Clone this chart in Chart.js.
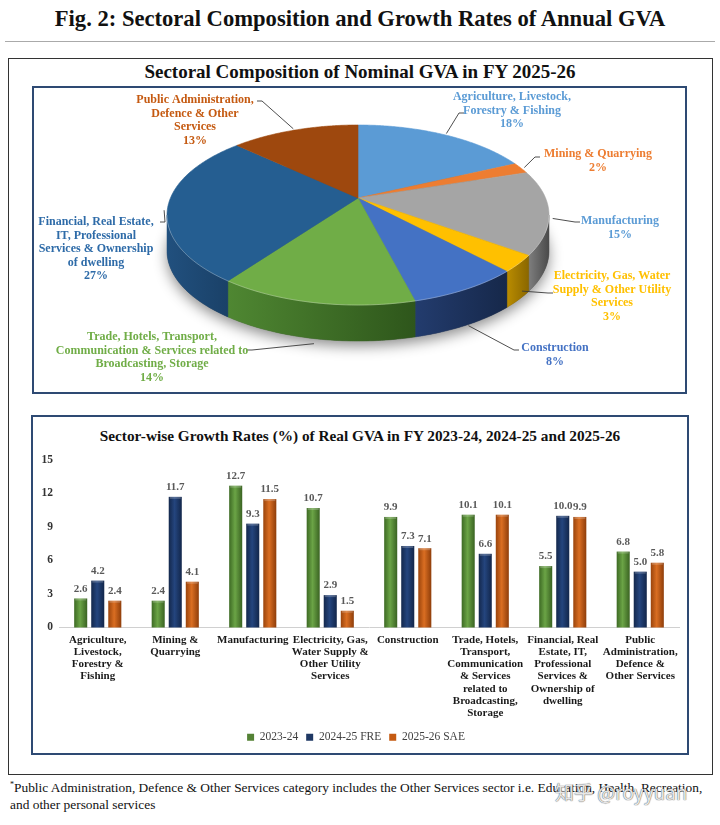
<!DOCTYPE html>
<html><head><meta charset="utf-8">
<script src="https://cdn.jsdelivr.net/npm/chart.js@4.4.1/dist/chart.umd.min.js"></script>
<style>
html,body{margin:0;padding:0;background:#fff;}
body{width:720px;height:825px;position:relative;overflow:hidden;font-family:"Liberation Serif","Times New Roman",serif;color:#111;}
.abs{position:absolute;}
#title{left:0;top:5px;width:720px;text-align:center;font-weight:bold;font-size:22.6px;line-height:28px;}
#rule{left:5px;top:41px;width:710px;height:1px;background:#aaa;}
#outer{left:8px;top:58px;width:705px;height:717px;border:1px solid #333;box-sizing:border-box;}
#pieTitle{left:0;top:61px;width:720px;text-align:center;font-weight:bold;font-size:19px;line-height:22px;}
#pieBox{left:32px;top:86px;width:655px;height:308px;border:2px solid #2E4A73;box-sizing:border-box;}
#barBox{left:31px;top:415px;width:658px;height:340px;border:2px solid #2E4A73;box-sizing:border-box;}
#barTitle{left:31px;top:426px;width:658px;text-align:center;font-weight:bold;font-size:15.3px;line-height:19px;}
#pieCanvas{left:34px;top:88px;}
#barCanvas{left:33px;top:445px;}
#foot{left:10px;top:776px;width:710px;font-size:13.4px;line-height:17px;white-space:nowrap;}
#wm{left:555px;top:778px;font-family:"Noto Sans CJK SC";font-size:19px;color:rgba(255,255,255,0.85);text-shadow:0 0 1px #666,0 0 1px #666;}
</style></head><body>
<div id="title" class="abs">Fig. 2: Sectoral Composition and Growth Rates of Annual GVA</div>
<div id="rule" class="abs"></div>
<div id="outer" class="abs"></div>
<div id="pieTitle" class="abs">Sectoral Composition of Nominal GVA in FY 2025-26</div>
<div id="pieBox" class="abs"></div>
<div id="barBox" class="abs"></div>
<div id="barTitle" class="abs">Sector-wise Growth Rates (%) of Real GVA in FY 2023-24, 2024-25 and 2025-26</div>
<canvas id="pieCanvas" class="abs" width="651" height="304"></canvas>
<canvas id="barCanvas" class="abs" width="654" height="308"></canvas>
<div id="foot" class="abs"><sup style="font-size:8px">*</sup>Public Administration, Defence &amp; Other Services category includes the Other Services sector i.e. Education, Health, Recreation,<br>and other personal services</div>
<div id="wm" class="abs">知乎 @royyuan</div>
<script>
const FONT = '"Liberation Serif", "Times New Roman", serif';

// ---------- Pie data ----------
const pieSectors = ['Agriculture, Livestock, Forestry & Fishing','Mining & Quarrying','Manufacturing',
  'Electricity, Gas, Water Supply & Other Utility Services','Construction',
  'Trade, Hotels, Transport, Communication & Services related to Broadcasting, Storage',
  'Financial, Real Estate, IT, Professional Services & Ownership of dwelling',
  'Public Administration, Defence & Other Services'];
const pieLabelLines = [
  ['Agriculture, Livestock,','Forestry & Fishing'],
  ['Mining & Quarrying'],
  ['Manufacturing'],
  ['Electricity, Gas, Water','Supply & Other Utility','Services'],
  ['Construction'],
  ['Trade, Hotels, Transport,','Communication & Services related to','Broadcasting, Storage'],
  ['Financial, Real Estate,','IT, Professional','Services & Ownership','of dwelling'],
  ['Public Administration,','Defence & Other','Services']
];
const pieShares = [18, 2, 15, 3, 8, 14, 27, 13];

// ---------- Bar data ----------
const barCategories = [
  ['Agriculture,','Livestock,','Forestry &','Fishing'],
  ['Mining &','Quarrying'],
  ['Manufacturing'],
  ['Electricity, Gas,','Water Supply &','Other Utility','Services'],
  ['Construction'],
  ['Trade, Hotels,','Transport,','Communication','& Services','related to','Broadcasting,','Storage'],
  ['Financial, Real','Estate, IT,','Professional','Services &','Ownership of','dwelling'],
  ['Public','Administration,','Defence &','Other Services']
];
const seriesNames = ['2023-24', '2024-25 FRE', '2025-26 SAE'];
const growth2324 = [2.6, 2.4, 12.7, 10.7, 9.9, 10.1, 5.5, 6.8];
const growth2425 = [4.2, 11.7, 9.3, 2.9, 7.3, 6.6, 10.0, 5.0];
const growth2526 = [2.4, 4.1, 11.5, 1.5, 7.1, 10.1, 9.9, 5.8];
const yTicks = [0, 3, 6, 9, 12, 15];

// ---------- Styles ----------
const pieColors = ['#5B9BD5','#ED7D31','#A5A5A5','#FFC000','#4472C4','#70AD47','#255E91','#9E480E'];
const wallLight = ['#3F75A8','#B85B1F','#7E7E7E','#BA8C00','#233C6E','#4F8732','#21507E','#7A360A'];
const wallDark  = ['#2F5A85','#8A4315','#4A4A4A','#8A6700','#16284A','#2E561B','#1A4168','#5C2807'];
const pieTextColors = ['#5B9BD5','#ED7D31','#5B9BD5','#FFC000','#4472C4','#70AD47','#2E6BA8','#C55A11'];
// label placement (canvas px): text centre x, first-line y, elbow point, elbow direction
const pieLabelPlace = [
  {x:478,y:9,ex:425,ey:25,h:1},
  {x:564,y:66,ex:501,ey:69,h:1},
  {x:586,y:133,ex:541,ey:134,h:1},
  {x:578,y:188,ex:514,ey:205,h:1},
  {x:521,y:260,ex:480,ey:262,h:1},
  {x:118,y:249,ex:218,ey:262,h:-1},
  {x:62,y:134,ex:131,ey:134,h:-1},
  {x:161,y:12,ex:228,ey:13,h:-1}
];

const pie3d = {
  id:'pie3d',
  geo(chart,o){
    const arcs = chart.getDatasetMeta(0).data;
    const a0 = arcs[0], cx=a0.x, cy=a0.y, r=a0.outerRadius;
    const A=r*o.kx, B=r*o.ky, p=o.persp;
    const P=(t,dy=0,f=1)=>{const s=Math.sin(t),c=Math.cos(t),den=1+p*s;return [cx+f*A*c/den, cy+f*B*s/den+dy];};
    return {arcs,cx,cy,P,p};
  },
  beforeDatasetsDraw(chart,args,o){
    const ctx=chart.ctx; const {arcs,cx,cy,P,p}=this.geo(chart,o); const D=o.depth;
    const tr=Math.asin(-p), t1=tr, t2=Math.PI-tr;
    ctx.save();
    ctx.shadowColor='rgba(0,0,0,0.45)'; ctx.shadowBlur=14; ctx.shadowOffsetY=5;
    ctx.beginPath();
    for(let k=0;k<=360;k++){const q=P(k*Math.PI/180,D); k?ctx.lineTo(q[0],q[1]):ctx.moveTo(q[0],q[1]);}
    ctx.closePath(); ctx.fillStyle='#555'; ctx.fill();
    ctx.restore();
    arcs.forEach((a,i)=>{
      const s=Math.max(a.startAngle,t1), e=Math.min(a.endAngle,t2);
      if(e<=s) return;
      const n=Math.max(2,Math.ceil((e-s)/0.01));
      ctx.beginPath();
      for(let k=0;k<=n;k++){const q=P(s+(e-s)*k/n); k?ctx.lineTo(q[0],q[1]):ctx.moveTo(q[0],q[1]);}
      for(let k=n;k>=0;k--){const q=P(s+(e-s)*k/n,D); ctx.lineTo(q[0],q[1]);}
      ctx.closePath();
      const xa=P(s)[0], xb=P(e)[0];
      const g=ctx.createLinearGradient(Math.min(xa,xb),0,Math.max(xa,xb)+0.1,0);
      g.addColorStop(0,o.wallLight[i]); g.addColorStop(1,o.wallDark[i]);
      ctx.fillStyle=g; ctx.fill(); ctx.strokeStyle=g; ctx.lineWidth=0.5; ctx.stroke();
    });
    arcs.forEach((a,i)=>{
      const s=a.startAngle, e=a.endAngle;
      const n=Math.max(2,Math.ceil((e-s)/0.01));
      ctx.beginPath(); ctx.moveTo(cx,cy);
      for(let k=0;k<=n;k++){const q=P(s+(e-s)*k/n); ctx.lineTo(q[0],q[1]);}
      ctx.closePath();
      ctx.fillStyle=a.options.backgroundColor; ctx.fill();
      ctx.strokeStyle=a.options.backgroundColor; ctx.lineWidth=0.6; ctx.stroke();
    });
    ctx.beginPath();
    for(let k=0;k<=100;k++){const q=P(t1+(t2-t1)*k/100); k?ctx.lineTo(q[0],q[1]):ctx.moveTo(q[0],q[1]);}
    ctx.strokeStyle='rgba(255,255,255,0.28)'; ctx.lineWidth=1; ctx.stroke();
    return false;
  },
  afterDraw(chart,args,o){
    const ctx=chart.ctx; const {arcs,P}=this.geo(chart,o); const D=o.depth;
    const vals=chart.data.datasets[0].data;
    ctx.save();
    arcs.forEach((a,i)=>{
      const L=o.place[i]; const m=(a.startAngle+a.endAngle)/2;
      const q=P(m, Math.max(0,Math.sin(m))*D*1.1, 1.02);
      ctx.strokeStyle='#3a3a3a'; ctx.lineWidth=0.9;
      ctx.beginPath(); ctx.moveTo(q[0],q[1]); ctx.lineTo(L.ex,L.ey); ctx.lineTo(L.ex+L.h*5,L.ey); ctx.stroke();
      const lines=[...pieLabelLines[i], vals[i]+'%'];
      ctx.fillStyle=o.textColors[i]; ctx.font='bold 12px '+FONT;
      ctx.textAlign='center'; ctx.textBaseline='middle';
      lines.forEach((ln,j)=>ctx.fillText(ln,L.x,L.y+j*o.lineHeight));
    });
    ctx.restore();
  }
};

new Chart(document.getElementById('pieCanvas'),{
  type:'pie',
  data:{labels:pieSectors,datasets:[{data:pieShares,backgroundColor:pieColors,borderWidth:0}]},
  options:{responsive:false,animation:false,events:[],
    layout:{padding:{top:0,right:3,bottom:84,left:0}},
    plugins:{legend:{display:false},tooltip:{enabled:false},
      pie3d:{kx:1.705,ky:0.789,persp:-0.189,depth:36,wallLight,wallDark,textColors:pieTextColors,place:pieLabelPlace,lineHeight:13.5}}},
  plugins:[pie3d]
});

// ---------- Bar chart ----------
const barShades = [
  ['#3D6A24','#6BA446','#3A6322'],
  ['#14284C','#24457E','#12264A'],
  ['#9A440C','#DA6E22','#8E3D0A']
];
const barStyle = {
  id:'barStyle',
  beforeDatasetDraw(chart,args,o){
    const ctx=chart.ctx, sh=o.shades[args.index];
    args.meta.data.forEach(b=>{
      const w=b.width, x0=b.x-w/2, top=Math.min(b.y,b.base), h=Math.abs(b.base-b.y);
      const g=ctx.createLinearGradient(x0,0,x0+w,0);
      g.addColorStop(0,sh[0]); g.addColorStop(0.45,sh[1]); g.addColorStop(1,sh[2]);
      ctx.fillStyle=g; ctx.fillRect(x0,top,w,h);
      ctx.fillStyle='rgba(255,255,255,0.22)'; ctx.fillRect(x0+1,top,w-2,2);
    });
    return false;
  },
  afterDatasetsDraw(chart,args,o){
    const ctx=chart.ctx;
    ctx.save();
    ctx.font='bold 11px '+FONT; ctx.fillStyle='#595959'; ctx.textAlign='center'; ctx.textBaseline='bottom';
    chart.data.datasets.forEach((ds,i)=>{
      chart.getDatasetMeta(i).data.forEach((b,j)=>{ ctx.fillText(ds.data[j].toFixed(1), b.x, b.y-4); });
    });
    ctx.restore();
  }
};

new Chart(document.getElementById('barCanvas'),{
  type:'bar',
  data:{labels:barCategories,datasets:[
    {label:seriesNames[0],data:growth2324,backgroundColor:'#548235',categoryPercentage:0.66,barPercentage:0.765},
    {label:seriesNames[1],data:growth2425,backgroundColor:'#1F3864',categoryPercentage:0.66,barPercentage:0.765},
    {label:seriesNames[2],data:growth2526,backgroundColor:'#C55A11',categoryPercentage:0.66,barPercentage:0.765}
  ]},
  options:{responsive:false,animation:false,events:[],
    layout:{padding:{top:15,right:8,left:0,bottom:0}},
    scales:{
      x:{grid:{display:false,tickLength:0},border:{display:true,color:'#d0d0d0',width:1},
        ticks:{autoSkip:false,maxRotation:0,minRotation:0,padding:6,color:'#1a1a1a',
          font:{family:FONT,size:11,weight:'bold',lineHeight:1.12}},
        afterFit(s){s.height=96;}},
      y:{min:0,max:15,grid:{display:false,tickLength:0},border:{display:false},
        afterBuildTicks(s){s.ticks=yTicks.map(v=>({value:v}));},
        ticks:{padding:6,color:'#333',font:{family:FONT,size:11.5,weight:'bold'}},
        afterFit(s){s.width=26;}}
    },
    plugins:{
      legend:{position:'bottom',labels:{boxWidth:7,boxHeight:7,padding:8,color:'#404040',font:{family:FONT,size:11.5}}},
      tooltip:{enabled:false},
      barStyle:{shades:barShades}
    }
  },
  plugins:[barStyle]
});
</script>
</body></html>
